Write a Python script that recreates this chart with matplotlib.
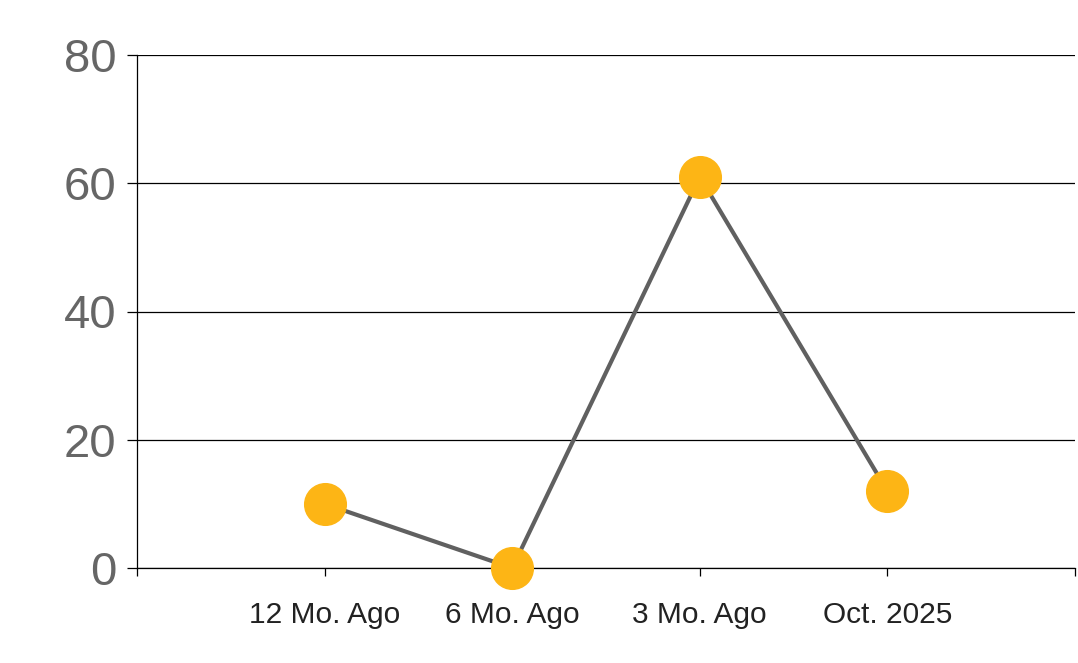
import matplotlib.pyplot as plt

# values
categories = ["12 Mo. Ago", "6 Mo. Ago", "3 Mo. Ago", "Oct. 2025"]
values = [10, 0, 61, 12]
y_ticks = [0, 20, 40, 60, 80]

plt.rcParams['font.family'] = ['Liberation Sans', 'DejaVu Sans']

fig = plt.figure(figsize=(10.78, 6.63), dpi=100)
ax = fig.add_axes([137 / 1078, 95 / 663, (1075 - 137) / 1078, (568 - 55) / 663])

xs = list(range(1, len(categories) + 1))
ax.plot(xs, values, '-', color='#606060', lw=3, zorder=3)
ax.plot(xs, values, 'o', color='#FDB515', ms=30, mec='#FDB515', zorder=4,
        clip_on=False)

ax.set_xlim(0, len(categories) + 1)
ax.set_ylim(0, 80)
ax.set_yticks(y_ticks)
ax.set_yticklabels([str(v) for v in y_ticks])
ax.set_xticks(range(0, len(categories) + 2))
ax.set_xticklabels([""] + categories + [""])

ax.grid(axis='y', color='black', lw=0.9)
ax.set_axisbelow(True)
for s in ['top', 'right']:
    ax.spines[s].set_visible(False)
ax.spines['left'].set_linewidth(0.9)
ax.spines['bottom'].set_linewidth(0.9)

ax.tick_params(axis='y', length=7, width=0.9, pad=8, labelsize=34,
               labelcolor='#666666')
ax.tick_params(axis='x', length=6, width=0.9, pad=18, labelsize=21.5,
               labelcolor='#222222')

fig.savefig("out.png", dpi=100)
